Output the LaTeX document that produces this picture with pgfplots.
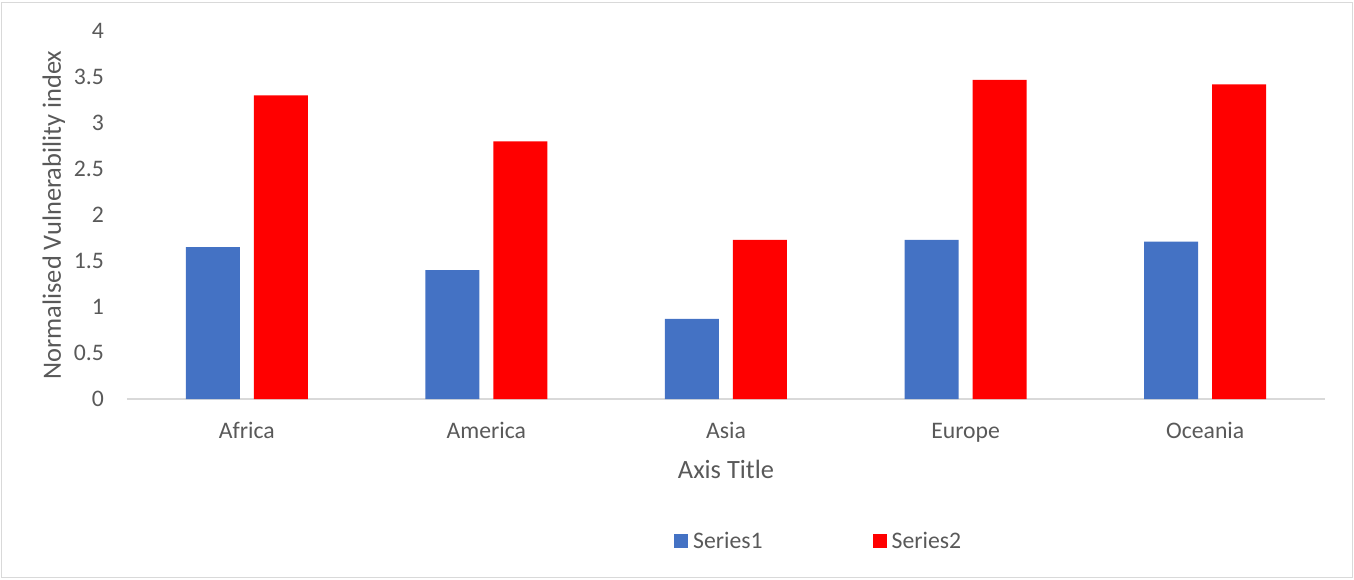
\documentclass[border=0pt]{standalone}
\usepackage{fontspec}
\setmainfont{Carlito}
\usepackage{pgfplots}
\pgfplotsset{compat=1.18}
\definecolor{s1}{HTML}{4472C4}
\definecolor{s2}{HTML}{FF0000}
\definecolor{txt}{HTML}{595959}
\definecolor{gridc}{HTML}{D9D9D9}
\begin{document}
\begin{tikzpicture}
\begin{axis}[name=ax, at={(0,0)}, anchor=south west,
 scale only axis, width=1198pt, height=368pt,
 xmin=-0.5, xmax=4.5, ymin=0, ymax=4,
 ybar=14pt, bar width=54pt,
 axis lines*=left,
 x axis line style={draw=gridc, line width=1.3pt, -},
 y axis line style={draw=none},
 major tick length=0pt,
 tick style={draw=none},
 xtick={0,1,2,3,4}, xticklabels={Africa,America,Asia,Europe,Oceania},
 ytick={0,0.5,1,1.5,2,2.5,3,3.5,4}, yticklabels={0,0.5,1,1.5,2,2.5,3,3.5,4},
 tick label style={font=\fontsize{23.7}{28}\selectfont, text=txt},
 xticklabel style={anchor=base, inner sep=0pt, yshift=-39pt},
 yticklabel style={anchor=east, inner sep=0pt, xshift=-23pt},
 xlabel={Axis Title}, ylabel={Normalised Vulnerability index},
 label style={font=\fontsize{26.4}{31}\selectfont, text=txt},
 xlabel style={at={(axis description cs:0.5,0)}, anchor=base, inner sep=0pt, yshift=-79pt},
 ylabel style={at={(axis description cs:-0.0551,0.5)}, anchor=base, inner sep=0pt},
 legend style={draw=none, fill=none, inner sep=0pt, at={(axis description cs:0.4566,-0.3859)}, anchor=west,
   font=\fontsize{23.7}{28}\selectfont, text=txt, nodes={inner sep=0pt},
   /tikz/every even column/.append style={column sep=110pt},
   /tikz/every odd column/.append style={column sep=5pt}},
 legend columns=2,
 legend image code/.code={\fill[#1] (0pt,-7pt) rectangle (14pt,7pt);},
]
\addplot[fill=s1, draw=none] coordinates {(0,1.65) (1,1.40) (2,0.87) (3,1.73) (4,1.71)};
\addplot[fill=s2, draw=none] coordinates {(0,3.30) (1,2.80) (2,1.73) (3,3.47) (4,3.42)};
\legend{Series1,Series2}
\end{axis}
\draw[gridc, line width=1pt] ([shift={(-125.5pt,-179pt)}]ax.south west) rectangle ([shift={(1225.5pt,396pt)}]ax.south west);
\useasboundingbox ([shift={(-127pt,-181pt)}]ax.south west) rectangle ([shift={(1227pt,399pt)}]ax.south west);
\end{tikzpicture}
\end{document}
